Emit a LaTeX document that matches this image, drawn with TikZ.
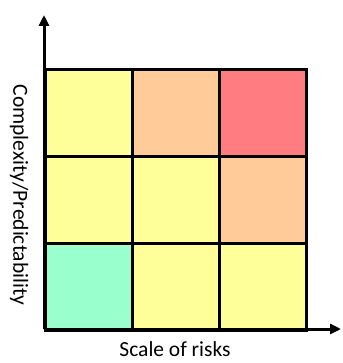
\documentclass[tikz,border=0pt]{standalone}
\usepackage{fontspec}
\setmainfont{Carlito}
\usetikzlibrary{arrows.meta}
\definecolor{cyellow}{HTML}{FFFF99}
\definecolor{cpeach}{HTML}{FFCC99}
\definecolor{cred}{HTML}{FF7C80}
\definecolor{cgreen}{HTML}{99FFCC}
\tikzset{
  cell/.style={draw=black, line width=2.6pt, minimum width=87pt, minimum height=87pt, inner sep=0pt, anchor=north west},
  axis/.style={line width=3pt, -{Triangle[length=11pt,width=10pt]}},
  lbl/.style={font=\fontsize{21.5}{24}\selectfont, inner sep=0pt}
}
\begin{document}
\begin{tikzpicture}[x=1pt,y=-1pt]
\useasboundingbox (0,0) rectangle (342,363);
% grid of cells (row 1 at top)
\node[cell, fill=cyellow] (c11) at (44,68) {};
\node[cell, fill=cpeach]  (c12) at (131,68) {};
\node[cell, fill=cred]    (c13) at (218,68) {};
\node[cell, fill=cyellow] (c21) at (44,155) {};
\node[cell, fill=cyellow] (c22) at (131,155) {};
\node[cell, fill=cpeach]  (c23) at (218,155) {};
\node[cell, fill=cgreen]  (c31) at (44,242) {};
\node[cell, fill=cyellow] (c32) at (131,242) {};
\node[cell, fill=cyellow] (c33) at (218,242) {};
% axes
\coordinate (o) at (44,329);
\coordinate (ytop) at (44,15);
\coordinate (xend) at (341,329);
\draw[axis] (o) -- (ytop);
\draw[axis] (o) -- (xend);
% labels
\node[lbl, rotate=-90] (ylab) at (19,195) {Complexity/Predictability};
\node[lbl] (xlab) at (175,349) {Scale of risks};
\end{tikzpicture}
\end{document}
